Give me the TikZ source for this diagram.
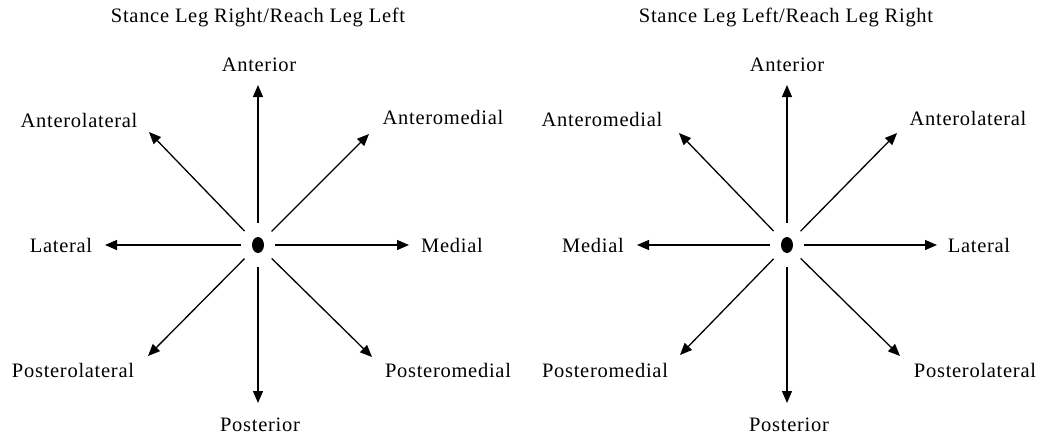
\documentclass[tikz,border=0pt]{standalone}
\usepackage{fontspec}
\setmainfont{Liberation Serif}[LetterSpace=3.5]
\usetikzlibrary{positioning, arrows.meta, shapes.geometric}

\begin{document}
\begin{tikzpicture}[
    x=1pt, y=-1pt,
    lbl/.style={font=\fontsize{20.5}{24}\selectfont, inner sep=0pt},
    title/.style={lbl},
    dot/.style={ellipse, fill=black, minimum width=12pt, minimum height=16pt, inner sep=0pt},
    hub/.style={ellipse, minimum width=34pt, minimum height=44pt, inner sep=0pt},
    arrow/.style={-{Triangle[length=12pt, width=10pt]}, line width=1.3pt}
]
\useasboundingbox (0,0) rectangle (1045,440);

% Left: stance leg right
\node[title] (ltitle) at (258,17) {Stance Leg Right/Reach Leg Left};
\node[dot] (ldot) at (258,245) {};
\node[hub] (lhub) at (258,245) {};

\coordinate (lant)  at (258,85);
\coordinate (lpost) at (258,403);
\coordinate (llat)  at (105,245);
\coordinate (lmed)  at (409,245);
\coordinate (lal)   at (149,132);
\coordinate (lam)   at (369,134);
\coordinate (lpl)   at (148,356);
\coordinate (lpm)   at (372,357);

\node[lbl] (lantl)  at (259,65)  {Anterior};
\node[lbl] (lpostl) at (260,425) {Posterior};
\node[lbl] (llatl)  at (61,245)  {Lateral};
\node[lbl] (lmedl)  at (452,245) {Medial};
\node[lbl] (lall)   at (79,120)  {Anterolateral};
\node[lbl] (laml)   at (443,117) {Anteromedial};
\node[lbl] (lpll)   at (73,370)  {Posterolateral};
\node[lbl] (lpml)   at (448,370) {Posteromedial};

\draw[arrow] (lhub) -- (lant);
\draw[arrow] (lhub) -- (lpost);
\draw[arrow] (lhub) -- (llat);
\draw[arrow] (lhub) -- (lmed);
\draw[arrow] (lhub) -- (lal);
\draw[arrow] (lhub) -- (lam);
\draw[arrow] (lhub) -- (lpl);
\draw[arrow] (lhub) -- (lpm);

% Right: stance leg left
\node[title] (rtitle) at (786,17) {Stance Leg Left/Reach Leg Right};
\node[dot] (rdot) at (787,245) {};
\node[hub] (rhub) at (787,245) {};

\coordinate (rant)  at (787,85);
\coordinate (rpost) at (787,403);
\coordinate (rmed)  at (637,245);
\coordinate (rlat)  at (937,245);
\coordinate (ram)   at (679,133);
\coordinate (ral)   at (897,133);
\coordinate (rpm)   at (680,355);
\coordinate (rpl)   at (900,356);

\node[lbl] (rantl)  at (787,65)  {Anterior};
\node[lbl] (rpostl) at (789,425) {Posterior};
\node[lbl] (rmedl)  at (593,245) {Medial};
\node[lbl] (rlatl)  at (979,245) {Lateral};
\node[lbl] (raml)   at (602,119) {Anteromedial};
\node[lbl] (rall)   at (968,118) {Anterolateral};
\node[lbl] (rpml)   at (605,370) {Posteromedial};
\node[lbl] (rpll)   at (975,370) {Posterolateral};

\draw[arrow] (rhub) -- (rant);
\draw[arrow] (rhub) -- (rpost);
\draw[arrow] (rhub) -- (rmed);
\draw[arrow] (rhub) -- (rlat);
\draw[arrow] (rhub) -- (ram);
\draw[arrow] (rhub) -- (ral);
\draw[arrow] (rhub) -- (rpm);
\draw[arrow] (rhub) -- (rpl);

\end{tikzpicture}
\end{document}
